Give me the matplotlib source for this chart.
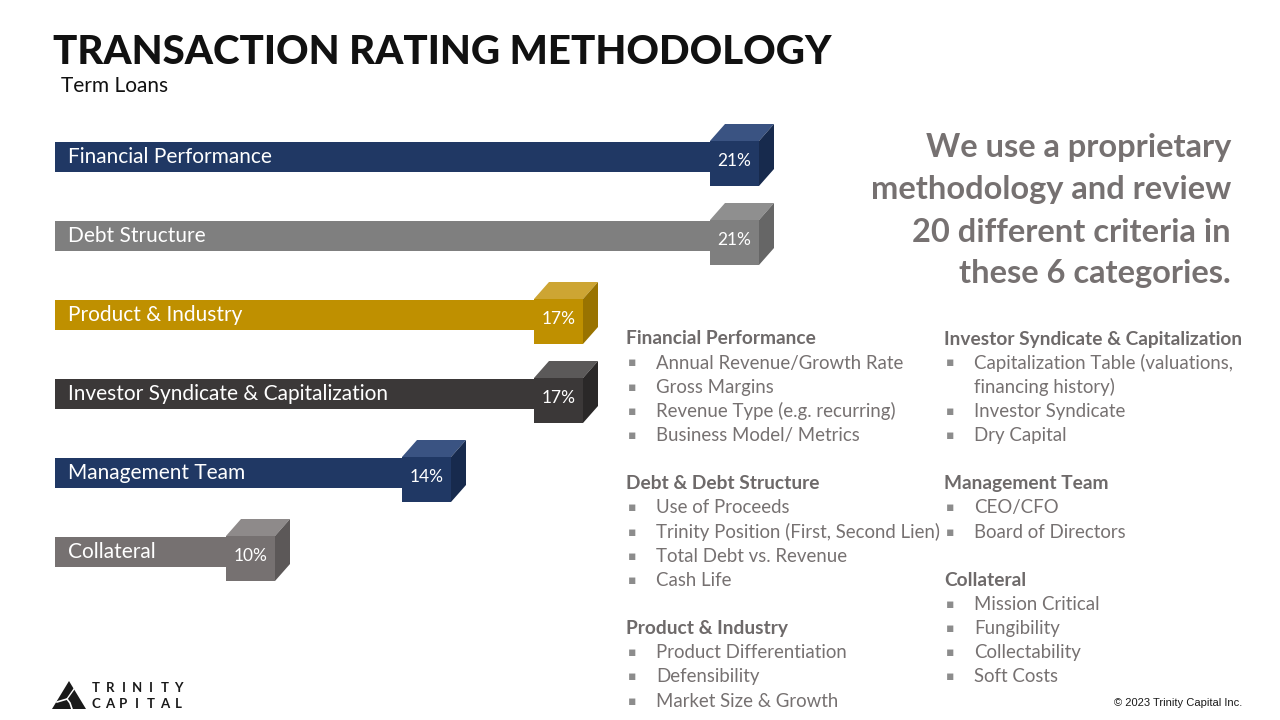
import matplotlib
matplotlib.use("Agg")
import matplotlib.pyplot as plt
from matplotlib.patches import Polygon

# ---------------- data ----------------
categories = ["Financial Performance", "Debt Structure", "Product & Industry",
              "Investor Syndicate & Capitalization", "Management Team", "Collateral"]
weights = [21, 21, 17, 17, 14, 10]
value_labels = ["21%", "21%", "17%", "17%", "14%", "10%"]
bar_colors = ["#203864", "#7F7F7F", "#BF9000", "#3B3838", "#203864", "#767171"]
top_colors = ["#3A5382", "#8F8F8F", "#CDA533", "#5B5959", "#3A5382", "#8E8A8A"]
side_colors = ["#172A4D", "#666666", "#997300", "#2A2828", "#172A4D", "#5C5858"]

title = "TRANSACTION RATING METHODOLOGY"
subtitle = "Term Loans"
claim_lines = ["We use a proprietary", "methodology and review",
               "20 different criteria in", "these 6 categories."]

col1_groups = [
    ("Financial Performance", [["Annual Revenue/Growth Rate"], ["Gross Margins"],
                               ["Revenue Type (e.g. recurring)"], ["Business Model/ Metrics"]]),
    ("Debt & Debt Structure", [["Use of Proceeds"], ["Trinity Position (First, Second Lien)"],
                               ["Total Debt vs. Revenue"], ["Cash Life"]]),
    ("Product & Industry", [["Product Differentiation"], ["Defensibility"],
                            ["Market Size & Growth"]]),
]
col2_groups = [
    ("Investor Syndicate & Capitalization", [["Capitalization Table (valuations,", "financing history)"],
                                             ["Investor Syndicate"], ["Dry Capital"]]),
    ("Management Team", [["CEO/CFO"], ["Board of Directors"]]),
    ("Collateral", [["Mission Critical"], ["Fungibility"], ["Collectability"], ["Soft Costs"]]),
]
logo_words = ["TRINITY", "CAPITAL"]
copyright_text = "\u00a9 2023 Trinity Capital Inc."

# ---------------- figure ----------------
W, H = 1280, 720
fig = plt.figure(figsize=(W / 100, H / 100), dpi=100)
fig.patch.set_facecolor("white")
FONT = "Lato"
TXT_GREY = "#767171"

# overlay axes in pixel coordinates for slide text
ax = fig.add_axes([0, 0, 1, 1])
ax.set_xlim(0, W)
ax.set_ylim(H, 0)
ax.axis("off")

# bar axes: pixel region x 55..850, y 120..600
px_l, px_r, px_t, px_b = 55, 850, 120, 600
bx = fig.add_axes([px_l / W, 1 - px_b / H, (px_r - px_l) / W, (px_b - px_t) / H])
bx.axis("off")
scale = 44.0     # px per percent
offset = -165.0  # px at 0%
bx.set_xlim((px_l - offset) / scale, (px_r - offset) / scale)
row_px = 79.0
first_c = 157.0
bx.set_ylim((px_b - first_c) / row_px, (px_t - first_c) / row_px)

xunit = 1 / scale      # data units per px in x
yunit = 1 / row_px     # data units per px in y

bar_h = 30 * yunit
cube_w = 49 * xunit
cube_h = 45 * yunit
dx = 15 * xunit
dy = 17 * yunit

x0 = bx.get_xlim()[0]
for i, (cat, v, lab) in enumerate(zip(categories, weights, value_labels)):
    bar_top = i - bar_h / 2
    bx.barh(i, v - x0, left=x0, height=bar_h, color=bar_colors[i], edgecolor="none", zorder=2)
    # cube faces
    ct = bar_top - 1 * yunit
    cb = ct + cube_h
    cl = v - cube_w
    front = Polygon([(cl, ct), (v, ct), (v, cb), (cl, cb)], closed=True,
                    facecolor=bar_colors[i], edgecolor="none", zorder=3)
    top = Polygon([(cl, ct), (cl + dx, ct - dy), (v + dx, ct - dy), (v, ct)], closed=True,
                  facecolor=top_colors[i], edgecolor="none", zorder=3)
    side = Polygon([(v, ct), (v + dx, ct - dy), (v + dx, cb - dy), (v, cb)], closed=True,
                   facecolor=side_colors[i], edgecolor="none", zorder=3)
    for p in (front, top, side):
        bx.add_patch(p)
    bx.text(v - cube_w / 2, ct + cube_h * 0.44, lab, color="white", fontsize=12.5,
            family=FONT, ha="center", va="center", zorder=4)
    bx.text(x0 + 13 * xunit, i, cat, color="white", fontsize=15, family=FONT,
            ha="left", va="center", zorder=4)

# title
ax.text(53, 52, title, fontsize=29, fontweight="black", family=FONT, color="#111111",
        ha="left", va="center")
ax.text(61, 86, subtitle, fontsize=15, family=FONT, color="#111111", ha="left", va="center")

# claim
for k, line in enumerate(claim_lines):
    ax.text(1231, 148 + 42 * k, line, fontsize=23.5, fontweight="bold", family=FONT,
            color=TXT_GREY, ha="right", va="center")

# bullet columns
def draw_col(x, y0, groups):
    y = y0
    for head, items in groups:
        ax.text(x, y, head, fontsize=13.8, fontweight="bold", family=FONT, color="#6E6A6A",
                ha="left", va="center")
        y += 24
        for item in items:
            ax.text(x + 2, y, "\u25aa", fontsize=9, family="DejaVu Sans", color="#8C8C8C",
                    ha="left", va="center")
            for ln in item:
                ax.text(x + 30, y, ln, fontsize=13.4, family=FONT, color=TXT_GREY,
                        ha="left", va="center")
                y += 24.2
        y += 24

draw_col(626, 339, col1_groups)
draw_col(944, 339, col2_groups)

# logo
tri = Polygon([(52, 709), (69, 681), (86, 709)], closed=True, facecolor="#1A1A1A",
              edgecolor="none")
ax.add_patch(tri)
ax.plot([57, 67, 70, 72], [702, 699, 703, 709], color="white", lw=1.2)
ax.plot([67, 74], [699, 689], color="white", lw=1.0)
for row, word in enumerate(logo_words):
    for j, ch in enumerate(word):
        ax.text(96 + 13.7 * j, 688 + 16 * row, ch, fontsize=9.5, family=FONT,
                color="#1A1A1A", ha="center", va="center", fontweight="bold")

ax.text(1242, 703, copyright_text, fontsize=8, family="Liberation Sans", color="#1A1A1A",
        ha="right", va="center")

fig.savefig("out.png", dpi=100, facecolor="white")
